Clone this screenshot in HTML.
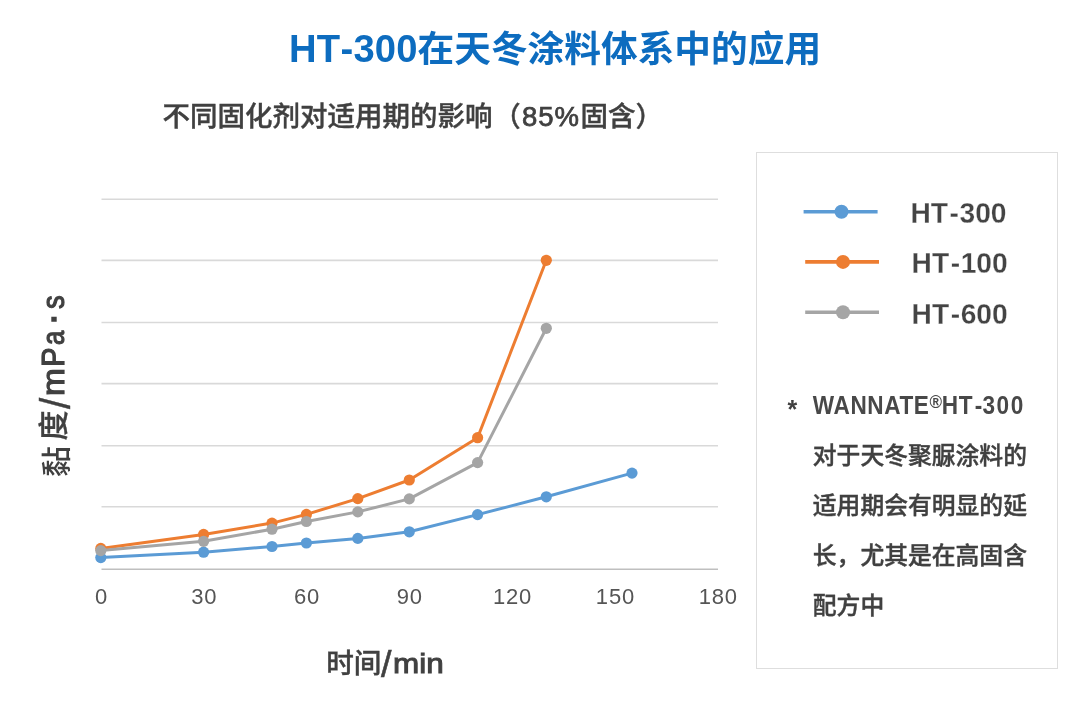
<!DOCTYPE html>
<html lang="zh-CN">
<head>
<meta charset="utf-8">
<title>HT-300在天冬涂料体系中的应用</title>
<style>
  html, body { margin: 0; padding: 0; background: #ffffff; }
  body {
    width: 1080px; height: 714px; position: relative; overflow: hidden;
    font-family: "Liberation Sans", "Noto Sans CJK SC", sans-serif;
    color: #404040;
  }
  .abs { position: absolute; white-space: nowrap; line-height: 1; }
  #title {
    left: 289px; top: 30.4px;
    font-size: 36.7px; font-weight: 700; color: #0d6cbf;
  }
  #title .lat { font-size: 38.2px; letter-spacing: 0.1px; }
  #title .hy { margin: 0 0.3px; }
  #subtitle {
    left: 162.5px; top: 103px; font-size: 27.5px; font-weight: 500; -webkit-text-stroke: 0.4px #404040; color: #404040;
  }
  #subtitle .p1 { margin-left: 0.8px; margin-right: 1.2px; }
  #subtitle .num { font-weight: 400; -webkit-text-stroke: 0.75px #404040; letter-spacing: 1px; margin-right: 0.4px; }
  #chart { position: absolute; left: 0; top: 0; width: 1080px; height: 714px; }
  .tick {
    font-family: "Liberation Sans", sans-serif; font-size: 22px; fill: #555555;
    text-anchor: middle; letter-spacing: 0.8px; filter: blur(0.3px);
  }
  #ylabel {
    left: 38.6px; top: 475.5px; font-size: 30px; font-weight: 500; color: #404040;
    transform: rotate(-90deg); transform-origin: 0 0;
    -webkit-text-stroke: 0.4px #404040;
  }
  #ylabel span { display: inline-block; }
  #ylabel .c1 { font-weight: 500; -webkit-text-stroke: 0; position: relative; top: 3px; transform: scaleX(1.03); transform-origin: 100% 50%; }
  #ylabel .c2 { margin-left: 5.5px; }
  #ylabel .l { font-size: 29px; font-weight: 400; -webkit-text-stroke: 1.1px #404040; transform: scaleY(1.07); transform-origin: 0 84.6%; }
  #ylabel .sl { margin-left: 1.6px; position: relative; top: 5.5px; transform: scale(1.4, 1.45); transform-origin: 0 84.6%; -webkit-text-stroke: 0.3px #404040; }
  #ylabel .m { margin-left: 5.2px; transform: scale(1.15, 1.07); }
  #ylabel .P { margin-left: 4.8px; }
  #ylabel .a { margin-left: 2.2px; transform: scale(0.88, 1.07); }
  #ylabel .d { margin-left: 5.3px; position: relative; top: -2.3px; transform: scale(1.25); transform-origin: 50% 50%; }
  #ylabel .s { margin-left: 5px; transform: scale(0.94, 1.07); }
  #xlabel {
    left: 326.2px; top: 650.4px; font-size: 27.6px; font-weight: 500; color: #404040;
    -webkit-text-stroke: 0.4px #404040;
  }
  #xlabel span { display: inline-block; }
  #xlabel .sl { font-size: 27px; font-weight: 400; -webkit-text-stroke: 0.4px #404040; margin-left: -0.6px; position: relative; top: 3.2px; transform: scale(1.4, 1.38); transform-origin: 0 84.6%; }
  #xlabel .l { font-size: 27px; font-weight: 400; -webkit-text-stroke: 0.95px #404040; margin-left: 4.4px; transform: scale(1.165, 1.04); transform-origin: 0 84.6%; }
  #box {
    position: absolute; left: 756px; top: 152px; width: 300px; height: 515px;
    border: 1px solid #dedede; background: #fff; box-sizing: content-box;
  }
  .leg { font-size: 28.2px; font-weight: 700; color: #444444; -webkit-text-stroke: 0.25px #ffffff; transform: scaleY(1.07); transform-origin: 0 50%; }
  .leg i { font-style: normal; margin: 0 0.6px 0 1.5px; }
  #note { left: 812.8px; top: 381.2px; font-size: 23.8px; font-weight: 500; line-height: 50px; color: #404040; white-space: nowrap; position: absolute; -webkit-text-stroke: 0.4px #404040; }
  #note .lat { display: inline-block; line-height: 1; font-size: 22.6px; letter-spacing: 0.6px; font-weight: 700; color: #484848; -webkit-text-stroke: 0; transform: scaleY(1.1); transform-origin: 0 85%; position: relative; top: -0.5px; }
  #note .lat i { font-style: normal; margin: 0 -0.3px 0 1.6px; }
  #note .lat b { font-weight: 700; letter-spacing: 1.5px; }
  #note .lat u { text-decoration: none; margin-left: 0; }
  #star { left: 787.6px; top: 397.4px; font-size: 25px; font-weight: 700; }
  sup.reg { font-size: 17px; vertical-align: 5.5px; line-height: 0; font-weight: 700; -webkit-text-stroke: 0; margin: 0 -0.9px 0 0; }
</style>
</head>
<body>
  <div id="title" class="abs" aria-label="HT-300在天冬涂料体系中的应用"><span class="lat">HT<span class="hy">-</span>300</span>在天冬涂料体系中的应用</div>
  <div id="subtitle" class="abs" aria-label="不同固化剂对适用期的影响（85%固含）">不同固化剂对适用期的影响<span class="p1">（</span><span class="num">85%</span>固含）</div>

  <svg id="chart" width="1080" height="714" viewBox="0 0 1080 714">
    <g stroke="#d9d9d9" stroke-width="1.6" fill="none">
      <line x1="101.5" y1="199.3" x2="718" y2="199.3"/>
      <line x1="101.5" y1="260.4" x2="718" y2="260.4"/>
      <line x1="101.5" y1="322.5" x2="718" y2="322.5"/>
      <line x1="101.5" y1="383.6" x2="718" y2="383.6"/>
      <line x1="101.5" y1="445.8" x2="718" y2="445.8"/>
      <line x1="101.5" y1="506.8" x2="718" y2="506.8"/>
      <line x1="101.5" y1="569.3" x2="718" y2="569.3" stroke="#bfbfbf"/>
    </g>
    <!-- HT-300 -->
    <g fill="#5b9bd5" stroke="none">
      <polyline fill="none" stroke="#5b9bd5" stroke-width="3" stroke-linejoin="round" stroke-linecap="round"
        points="100.8,557.6 203.6,552.2 272,546.5 306.4,543 357.8,538.4 409.3,531.8 477.6,514.6 546.3,496.8 632,473.1"/>
      <circle cx="100.8" cy="557.6" r="5.6"/><circle cx="203.6" cy="552.2" r="5.6"/><circle cx="272" cy="546.5" r="5.6"/>
      <circle cx="306.4" cy="543" r="5.6"/><circle cx="357.8" cy="538.4" r="5.6"/><circle cx="409.3" cy="531.8" r="5.6"/>
      <circle cx="477.6" cy="514.6" r="5.6"/><circle cx="546.3" cy="496.8" r="5.6"/><circle cx="632" cy="473.1" r="5.6"/>
    </g>
    <!-- HT-100 -->
    <g fill="#ed7d31" stroke="none">
      <polyline fill="none" stroke="#ed7d31" stroke-width="3" stroke-linejoin="round" stroke-linecap="round"
        points="100.8,548.4 203.6,534.4 272,523.1 306.4,514.4 357.8,498.6 409.3,480 477.6,437.7 546.3,260.3"/>
      <circle cx="100.8" cy="548.4" r="5.6"/><circle cx="203.6" cy="534.4" r="5.6"/><circle cx="272" cy="523.1" r="5.6"/>
      <circle cx="306.4" cy="514.4" r="5.6"/><circle cx="357.8" cy="498.6" r="5.6"/><circle cx="409.3" cy="480" r="5.6"/>
      <circle cx="477.6" cy="437.7" r="5.6"/><circle cx="546.3" cy="260.3" r="5.6"/>
    </g>
    <!-- HT-600 -->
    <g fill="#a5a5a5" stroke="none">
      <polyline fill="none" stroke="#a5a5a5" stroke-width="3" stroke-linejoin="round" stroke-linecap="round"
        points="100.8,550.6 203.6,541.3 272,529.2 306.4,521.5 357.8,511.9 409.3,498.9 477.6,462.6 546.3,328.3"/>
      <circle cx="100.8" cy="550.6" r="5.6"/><circle cx="203.6" cy="541.3" r="5.6"/><circle cx="272" cy="529.2" r="5.6"/>
      <circle cx="306.4" cy="521.5" r="5.6"/><circle cx="357.8" cy="511.9" r="5.6"/><circle cx="409.3" cy="498.9" r="5.6"/>
      <circle cx="477.6" cy="462.6" r="5.6"/><circle cx="546.3" cy="328.3" r="5.6"/>
    </g>
    <g class="tick">
      <text x="101.4" y="603.5">0</text>
      <text x="204.2" y="603.5">30</text>
      <text x="307" y="603.5">60</text>
      <text x="409.8" y="603.5">90</text>
      <text x="512.6" y="603.5">120</text>
      <text x="615.4" y="603.5">150</text>
      <text x="718.2" y="603.5">180</text>
    </g>
  </svg>

  <div id="ylabel" class="abs" aria-label="黏度/mPa·s"><span class="c1">黏</span><span class="c2">度</span><span class="l sl">/</span><span class="l m">m</span><span class="l P">P</span><span class="l a">a</span><span class="l d">·</span><span class="l s">s</span></div>
  <div id="xlabel" class="abs" aria-label="时间/min">时间<span class="sl">/</span><span class="l">min</span></div>

  <div id="box"></div>
  <svg class="abs" style="left:756px;top:152px" width="300" height="200" viewBox="756 152 300 200">
    <line x1="803.6" y1="211.8" x2="877.6" y2="211.8" stroke="#5b9bd5" stroke-width="3.6"/>
    <circle cx="841.5" cy="211.8" r="7" fill="#5b9bd5"/>
    <line x1="805.2" y1="261.9" x2="879" y2="261.9" stroke="#ed7d31" stroke-width="3.6"/>
    <circle cx="843" cy="261.9" r="7" fill="#ed7d31"/>
    <line x1="805.2" y1="312.2" x2="879" y2="312.2" stroke="#a5a5a5" stroke-width="3.6"/>
    <circle cx="843" cy="312.2" r="7" fill="#a5a5a5"/>
  </svg>
  <div class="abs leg" style="left:910.4px;top:198.2px" aria-label="HT-300">HT<i>-</i>300</div>
  <div class="abs leg" style="left:911.6px;top:248.4px" aria-label="HT-100">HT<i>-</i>100</div>
  <div class="abs leg" style="left:911.6px;top:298.9px" aria-label="HT-600">HT<i>-</i>600</div>

  <div id="star" class="abs">*</div>
  <div id="note" aria-label="WANNATE®HT-300 对于天冬聚脲涂料的适用期会有明显的延长，尤其是在高固含配方中"><span class="lat">WANNATE<sup class="reg">®</sup><u>H</u>T<i>-</i><b>300</b></span><br>对于天冬聚脲涂料的<br>适用期会有明显的延<br>长，尤其是在高固含<br>配方中</div>
</body>
</html>
